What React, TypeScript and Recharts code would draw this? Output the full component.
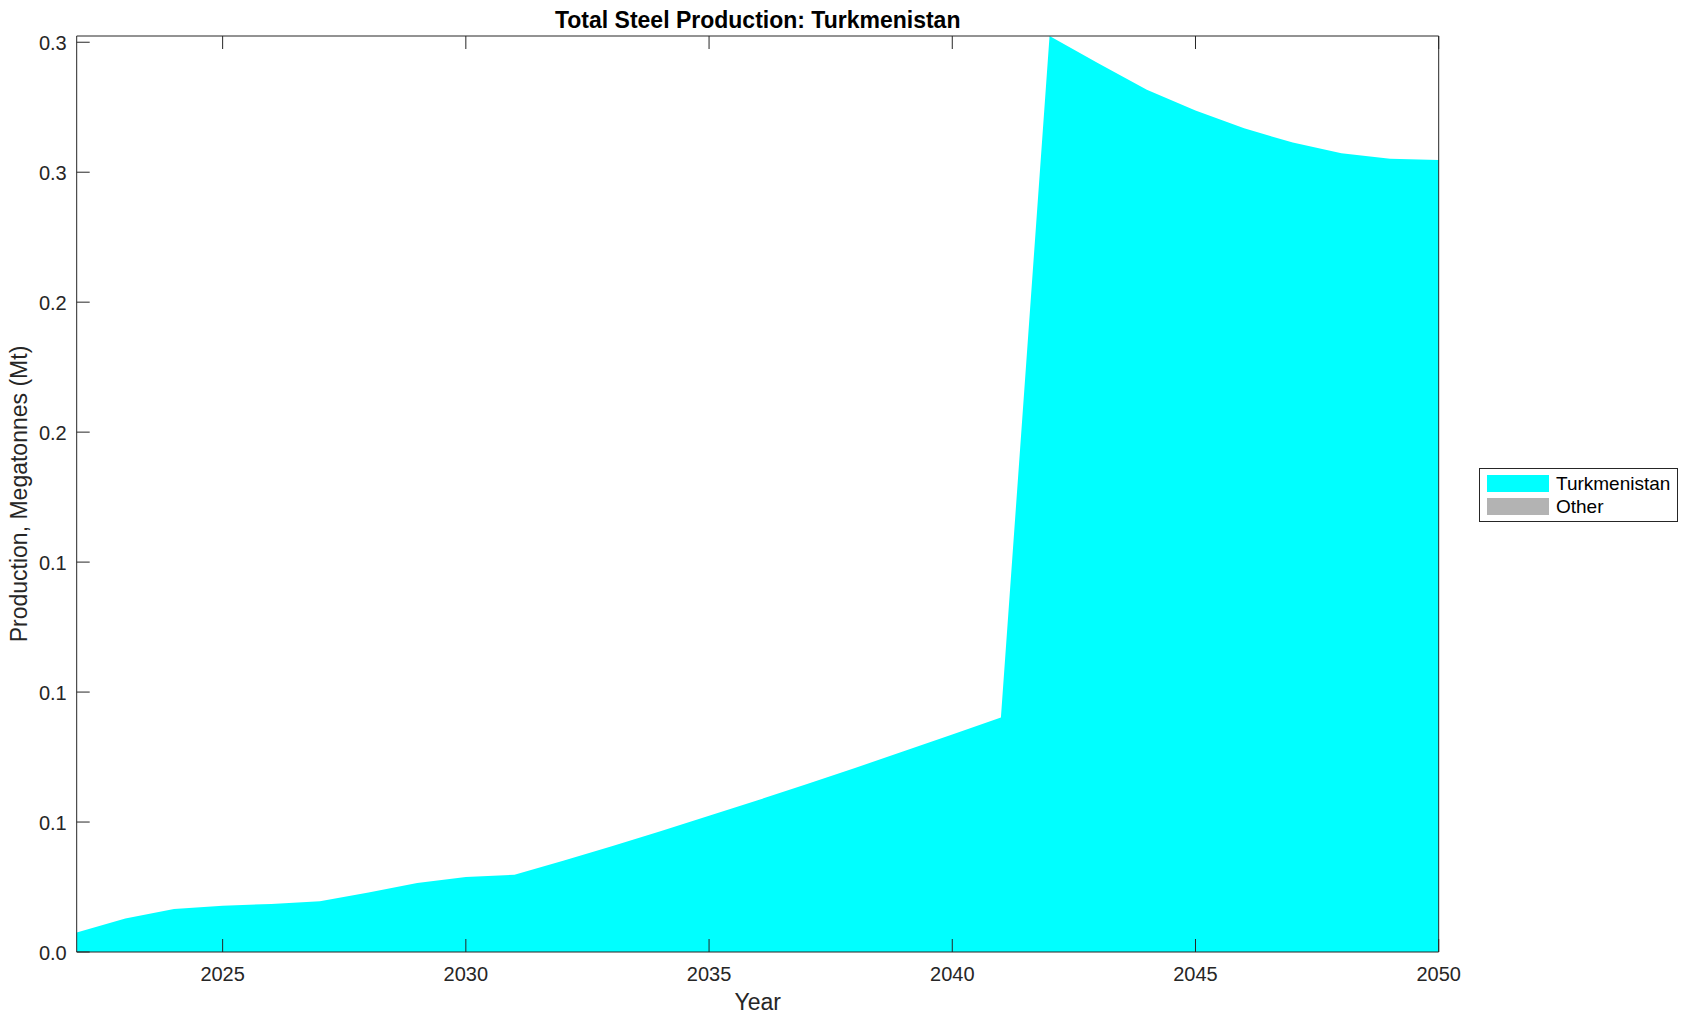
import React from 'react';
import { AreaChart, Area, XAxis, YAxis, Legend } from 'recharts';

const FONT = '"Liberation Sans", Arial, Helvetica, sans-serif';
const INK = '#262626';
const TICK_LEN = 13;

// yearly values, Mt
const years = [
  2022, 2023, 2024, 2025, 2026, 2027, 2028, 2029, 2030, 2031,
  2032, 2033, 2034, 2035, 2036, 2037, 2038, 2039, 2040, 2041,
  2042, 2043, 2044, 2045, 2046, 2047, 2048, 2049, 2050,
];
const turkmenistan = [
  0.0075, 0.0129, 0.0165, 0.0178, 0.0185, 0.0195, 0.0229, 0.0265, 0.0289, 0.0297,
  0.0351, 0.0407, 0.0465, 0.0524, 0.0584, 0.0645, 0.0708, 0.0772, 0.0837, 0.0902,
  0.3524, 0.3419, 0.3317, 0.3237, 0.3169, 0.3114, 0.3073, 0.3052, 0.3047,
];
const other = [
  0, 0, 0, 0, 0, 0, 0, 0, 0, 0,
  0, 0, 0, 0, 0, 0, 0, 0, 0, 0,
  0, 0, 0, 0, 0, 0, 0, 0, 0,
];

const xTicks = [2025, 2030, 2035, 2040, 2045, 2050];
const yTicks = [0, 0.05, 0.1, 0.15, 0.2, 0.25, 0.3, 0.35];
const yTickLabels = ['0.0', '0.1', '0.1', '0.1', '0.2', '0.2', '0.3', '0.3'];
const seriesNames = ['Turkmenistan', 'Other'];
const seriesColors = ['#00ffff', '#b3b3b3'];

const xDomain = [2022, 2050];
const yDomain = [0, 0.3524];

const data = years.map((year, i) => ({
  year,
  Turkmenistan: turkmenistan[i],
  Other: other[i],
}));

// ticks point into the plot, matlab style
const BottomTick = (props: any) => {
  const { x, y, payload } = props;
  return (
    <g>
      <line x1={x} y1={y} x2={x} y2={y - TICK_LEN} stroke={INK} strokeWidth={1} />
      <text x={x} y={y + 29} textAnchor="middle" fill={INK} fontSize={20} fontFamily={FONT}>
        {payload.value}
      </text>
    </g>
  );
};

const TopTick = (props: any) => {
  const { x, y } = props;
  return <line x1={x} y1={y} x2={x} y2={y + TICK_LEN} stroke={INK} strokeWidth={1} />;
};

const LeftTick = (props: any) => {
  const { x, y, index } = props;
  return (
    <g>
      <line x1={x} y1={y} x2={x + TICK_LEN} y2={y} stroke={INK} strokeWidth={1} />
      <text x={x - 10} y={y + 8} textAnchor="end" fill={INK} fontSize={20} fontFamily={FONT}>
        {yTickLabels[index]}
      </text>
    </g>
  );
};

const RightTick = (props: any) => {
  const { x, y } = props;
  return <line x1={x} y1={y} x2={x - TICK_LEN} y2={y} stroke={INK} strokeWidth={1} />;
};

const renderLegend = () => (
  <div
    style={{
      boxSizing: 'border-box',
      width: 199,
      height: 54,
      border: `1px solid ${INK}`,
      background: '#fff',
      position: 'relative',
      fontFamily: FONT,
      fontSize: 19,
      color: '#000',
    }}
  >
    {seriesNames.map((name, i) => (
      <div
        key={name}
        style={{ position: 'absolute', left: 7, top: 6 + i * 23.4, height: 17, display: 'flex', alignItems: 'center' }}
      >
        <div style={{ width: 62, height: 17, background: seriesColors[i] }} />
        <span style={{ marginLeft: 7, lineHeight: '17px', whiteSpace: 'nowrap' }}>{name}</span>
      </div>
    ))}
  </div>
);

const YLabel = () => (
  <text
    x={19}
    y={494}
    transform="rotate(-90, 19, 494)"
    textAnchor="middle"
    dominantBaseline="central"
    fill={INK}
    fontSize={23}
    fontFamily={FONT}
  >
    Production, Megatonnes (Mt)
  </text>
);

export default function App() {
  return (
    <div style={{ position: 'absolute', left: 0, top: 0, width: 1689, height: 1021, background: '#fff' }}>
      <AreaChart
        width={1689}
        height={1021}
        data={data}
        margin={{ top: 35, right: 249.3, bottom: 0, left: 0 }}
      >
        <XAxis
          dataKey="year"
          type="number"
          domain={xDomain}
          ticks={xTicks}
          interval={0}
          height={69}
          tickSize={0}
          tickMargin={0}
          tickLine={false}
          stroke={INK}
          tick={<BottomTick />}
          label={{ value: 'Year', position: 'insideBottom', offset: 11, fill: INK, fontSize: 23, fontFamily: FONT }}
        />
        <XAxis
          xAxisId="top"
          orientation="top"
          dataKey="year"
          type="number"
          domain={xDomain}
          ticks={xTicks}
          interval={0}
          height={1}
          tickSize={0}
          tickMargin={0}
          tickLine={false}
          stroke={INK}
          tick={<TopTick />}
        />
        <YAxis
          type="number"
          domain={yDomain}
          ticks={yTicks}
          interval={0}
          width={76.7}
          tickSize={0}
          tickMargin={0}
          tickLine={false}
          stroke={INK}
          tick={<LeftTick />}
          label={{ content: () => <YLabel /> }}
        />
        <YAxis
          yAxisId="right"
          orientation="right"
          type="number"
          domain={yDomain}
          ticks={yTicks}
          interval={0}
          width={1}
          tickSize={0}
          tickMargin={0}
          tickLine={false}
          stroke={INK}
          tick={<RightTick />}
        />
        <Area
          type="linear"
          dataKey="Turkmenistan"
          name={seriesNames[0]}
          stackId="s"
          fill={seriesColors[0]}
          fillOpacity={1}
          stroke="none"
          isAnimationActive={false}
        />
        <Area
          type="linear"
          dataKey="Other"
          name={seriesNames[1]}
          stackId="s"
          fill={seriesColors[1]}
          fillOpacity={1}
          stroke="none"
          isAnimationActive={false}
        />
        <Legend
          layout="horizontal"
          verticalAlign="middle"
          align="center"
          content={renderLegend}
          wrapperStyle={{ left: 1479, top: 468, width: 199, height: 54 }}
        />
      </AreaChart>
      <div
        style={{
          position: 'absolute',
          left: 76.7,
          top: 8.5,
          width: 1362,
          textAlign: 'center',
          fontFamily: FONT,
          fontWeight: 'bold',
          fontSize: 23,
          lineHeight: '23px',
          color: '#000',
        }}
      >
        Total Steel Production: Turkmenistan
      </div>
    </div>
  );
}
